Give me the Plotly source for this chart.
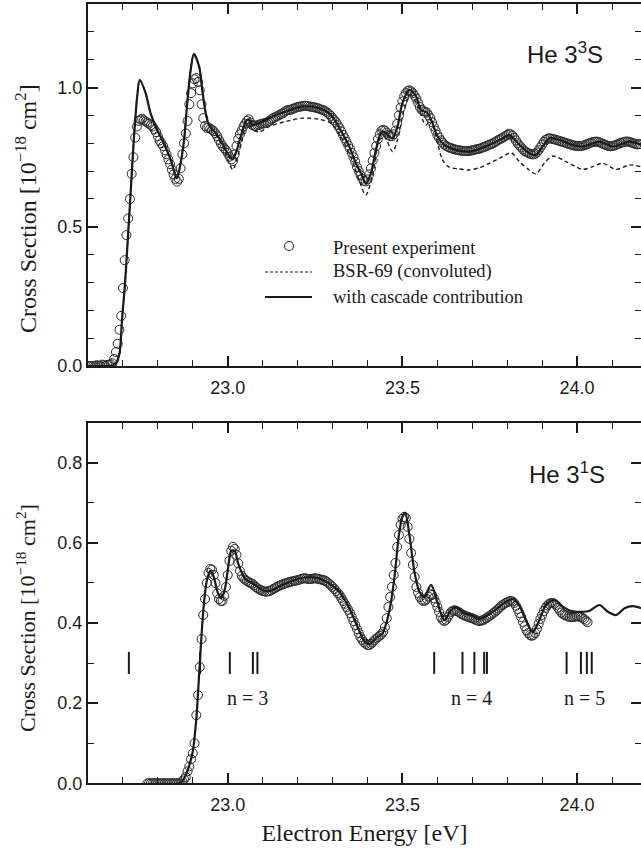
import plotly.graph_objects as go

# ---------------- data: He 3^3S (top panel) ----------------
exp_top_E = [
    22.600, 22.605, 22.610, 22.615, 22.620, 22.625, 22.630, 22.635, 22.640, 22.645,
    22.650, 22.655, 22.660, 22.665, 22.670, 22.675, 22.680, 22.685, 22.690, 22.695,
    22.700, 22.705, 22.710, 22.715, 22.720, 22.725, 22.730, 22.735, 22.740, 22.745,
    22.750, 22.755, 22.760, 22.765, 22.770, 22.775, 22.780, 22.785, 22.790, 22.795,
    22.800, 22.805, 22.810, 22.815, 22.820, 22.825, 22.830, 22.835, 22.840, 22.845,
    22.850, 22.855, 22.860, 22.865, 22.870, 22.875, 22.880, 22.885, 22.890, 22.895,
    22.900, 22.905, 22.910, 22.915, 22.920, 22.925, 22.930, 22.935, 22.940, 22.945,
    22.950, 22.955, 22.960, 22.965, 22.970, 22.975, 22.980, 22.985, 22.990, 22.995,
    23.000, 23.005, 23.010, 23.015, 23.020, 23.025, 23.030, 23.035, 23.040, 23.045,
    23.050, 23.055, 23.060, 23.065, 23.070, 23.075, 23.080, 23.085, 23.090, 23.095,
    23.100, 23.105, 23.110, 23.115, 23.120, 23.125, 23.130, 23.135, 23.140, 23.145,
    23.150, 23.155, 23.160, 23.165, 23.170, 23.175, 23.180, 23.185, 23.190, 23.195,
    23.200, 23.205, 23.210, 23.215, 23.220, 23.225, 23.230, 23.235, 23.240, 23.245,
    23.250, 23.255, 23.260, 23.265, 23.270, 23.275, 23.280, 23.285, 23.290, 23.295,
    23.300, 23.305, 23.310, 23.315, 23.320, 23.325, 23.330, 23.335, 23.340, 23.345,
    23.350, 23.355, 23.360, 23.365, 23.370, 23.375, 23.380, 23.385, 23.390, 23.395,
    23.400, 23.405, 23.410, 23.415, 23.420, 23.425, 23.430, 23.435, 23.440, 23.445,
    23.450, 23.455, 23.460, 23.465, 23.470, 23.475, 23.480, 23.485, 23.490, 23.495,
    23.500, 23.505, 23.510, 23.515, 23.520, 23.525, 23.530, 23.535, 23.540, 23.545,
    23.550, 23.555, 23.560, 23.565, 23.570, 23.575, 23.580, 23.585, 23.590, 23.595,
    23.600, 23.605, 23.610, 23.615, 23.620, 23.625, 23.630, 23.635, 23.640, 23.645,
    23.650, 23.655, 23.660, 23.665, 23.670, 23.675, 23.680, 23.685, 23.690, 23.695,
    23.700, 23.705, 23.710, 23.715, 23.720, 23.725, 23.730, 23.735, 23.740, 23.745,
    23.750, 23.755, 23.760, 23.765, 23.770, 23.775, 23.780, 23.785, 23.790, 23.795,
    23.800, 23.805, 23.810, 23.815, 23.820, 23.825, 23.830, 23.835, 23.840, 23.845,
    23.850, 23.855, 23.860, 23.865, 23.870, 23.875, 23.880, 23.885, 23.890, 23.895,
    23.900, 23.905, 23.910, 23.915, 23.920, 23.925, 23.930, 23.935, 23.940, 23.945,
    23.950, 23.955, 23.960, 23.965, 23.970, 23.975, 23.980, 23.985, 23.990, 23.995,
    24.000, 24.005, 24.010, 24.015, 24.020, 24.025, 24.030, 24.035, 24.040, 24.045,
    24.050, 24.055, 24.060, 24.065, 24.070, 24.075, 24.080, 24.085, 24.090, 24.095,
    24.100, 24.105, 24.110, 24.115, 24.120, 24.125, 24.130, 24.135, 24.140, 24.145,
    24.150, 24.155, 24.160, 24.165, 24.170, 24.175, 24.180,
]
exp_top_sigma = [
    0, 0, 0, 0, 0, 0.003, 0, 0, 0.005, 0.003, 0, 0.004, 0.005, 0.006, 0.01, 0.025, 0.05, 0.08, 0.13, 0.18,
    0.28, 0.38, 0.47, 0.53, 0.60, 0.69, 0.75, 0.82, 0.86, 0.88, 0.885, 0.888, 0.882, 0.878, 0.874, 0.87, 0.865, 0.86, 0.85, 0.84,
    0.825, 0.81, 0.80, 0.79, 0.775, 0.76, 0.742, 0.725, 0.705, 0.688, 0.672, 0.662, 0.672, 0.71, 0.76, 0.80, 0.835, 0.88, 0.94, 0.98,
    1.015, 1.03, 1.034, 1.02, 0.99, 0.94, 0.89, 0.862, 0.855, 0.857, 0.852, 0.848, 0.843, 0.835, 0.825, 0.812, 0.80, 0.79, 0.782, 0.775,
    0.765, 0.752, 0.742, 0.736, 0.76, 0.79, 0.815, 0.832, 0.845, 0.86, 0.87, 0.88, 0.886, 0.875, 0.866, 0.862, 0.862, 0.865, 0.866, 0.87,
    0.87, 0.872, 0.873, 0.877, 0.88, 0.886, 0.89, 0.893, 0.896, 0.90, 0.903, 0.906, 0.91, 0.915, 0.918, 0.92, 0.92, 0.923, 0.925, 0.928,
    0.93, 0.931, 0.932, 0.934, 0.935, 0.934, 0.933, 0.932, 0.93, 0.93, 0.928, 0.927, 0.925, 0.922, 0.92, 0.918, 0.915, 0.91, 0.905, 0.898,
    0.89, 0.883, 0.875, 0.865, 0.855, 0.843, 0.83, 0.818, 0.805, 0.792, 0.78, 0.765, 0.75, 0.733, 0.715, 0.70, 0.685, 0.673, 0.665, 0.663,
    0.67, 0.688, 0.71, 0.738, 0.765, 0.79, 0.815, 0.832, 0.845, 0.848, 0.845, 0.838, 0.83, 0.826, 0.825, 0.832, 0.845, 0.87, 0.90, 0.928,
    0.95, 0.968, 0.98, 0.988, 0.99, 0.986, 0.98, 0.97, 0.96, 0.945, 0.93, 0.92, 0.915, 0.913, 0.91, 0.90, 0.89, 0.875, 0.86, 0.845,
    0.83, 0.82, 0.81, 0.802, 0.795, 0.79, 0.787, 0.784, 0.782, 0.78, 0.778, 0.776, 0.775, 0.774, 0.773, 0.772, 0.772, 0.772, 0.772, 0.773,
    0.775, 0.776, 0.778, 0.779, 0.78, 0.782, 0.785, 0.787, 0.79, 0.792, 0.795, 0.797, 0.80, 0.804, 0.808, 0.812, 0.815, 0.818, 0.822, 0.826,
    0.83, 0.834, 0.832, 0.828, 0.82, 0.81, 0.80, 0.792, 0.785, 0.778, 0.772, 0.768, 0.765, 0.762, 0.76, 0.76, 0.762, 0.767, 0.775, 0.785,
    0.795, 0.805, 0.812, 0.816, 0.818, 0.817, 0.815, 0.814, 0.812, 0.81, 0.808, 0.806, 0.804, 0.802, 0.80, 0.798, 0.796, 0.794, 0.792, 0.791,
    0.79, 0.79, 0.79, 0.791, 0.792, 0.795, 0.797, 0.80, 0.802, 0.804, 0.805, 0.806, 0.805, 0.803, 0.80, 0.797, 0.795, 0.792, 0.79, 0.789,
    0.79, 0.791, 0.793, 0.796, 0.798, 0.801, 0.803, 0.805, 0.806, 0.806, 0.805, 0.803, 0.80, 0.798, 0.796, 0.796, 0.797,
]

casc_top_E = [
    22.60, 22.65, 22.67, 22.68, 22.69, 22.698, 22.706, 22.715, 22.722, 22.731,
    22.741, 22.748, 22.765, 22.779, 22.798, 22.817, 22.837, 22.854, 22.865, 22.875,
    22.884, 22.894, 22.903, 22.918, 22.927, 22.937, 22.946, 22.966, 22.985, 22.999,
    23.013, 23.023, 23.037, 23.052, 23.061, 23.07, 23.09, 23.118, 23.166, 23.214,
    23.262, 23.29, 23.309, 23.328, 23.348, 23.367, 23.386, 23.395, 23.41, 23.424,
    23.438, 23.448, 23.462, 23.472, 23.486, 23.50, 23.52, 23.539, 23.553, 23.572,
    23.586, 23.601, 23.62, 23.653, 23.691, 23.749, 23.787, 23.806, 23.835, 23.863,
    23.882, 23.901, 23.921, 23.949, 23.987, 24.016, 24.064, 24.102, 24.15, 24.183,
]
casc_top_sigma = [
    0, 0, 0.002, 0.01, 0.045, 0.176, 0.297, 0.477, 0.62, 0.81,
    0.97, 1.028, 0.98, 0.908, 0.848, 0.80, 0.74, 0.674, 0.728, 0.812,
    0.944, 1.064, 1.121, 1.076, 0.992, 0.908, 0.866, 0.836, 0.80, 0.764,
    0.742, 0.764, 0.824, 0.878, 0.886, 0.866, 0.872, 0.89, 0.914, 0.932,
    0.926, 0.908, 0.878, 0.836, 0.788, 0.728, 0.68, 0.656, 0.692, 0.776,
    0.836, 0.842, 0.824, 0.818, 0.86, 0.944, 0.992, 0.968, 0.92, 0.908,
    0.872, 0.824, 0.794, 0.776, 0.77, 0.794, 0.818, 0.83, 0.794, 0.764,
    0.758, 0.788, 0.818, 0.812, 0.794, 0.788, 0.806, 0.788, 0.806, 0.794,
]

bsr_top_E = [
    22.60, 22.65, 22.67, 22.68, 22.69, 22.698, 22.706, 22.715, 22.722, 22.731,
    22.741, 22.748, 22.765, 22.779, 22.798, 22.817, 22.837, 22.854, 22.865, 22.875,
    22.884, 22.894, 22.903, 22.918, 22.927, 22.937, 22.946, 22.966, 22.985, 23.00,
    23.015, 23.03, 23.05, 23.06, 23.07, 23.09, 23.118, 23.166, 23.214, 23.262,
    23.295, 23.324, 23.352, 23.376, 23.395, 23.414, 23.434, 23.448, 23.472, 23.486,
    23.505, 23.524, 23.543, 23.558, 23.567, 23.582, 23.596, 23.615, 23.634, 23.66,
    23.691, 23.72, 23.749, 23.787, 23.811, 23.835, 23.863, 23.882, 23.906, 23.93,
    23.968, 24.016, 24.045, 24.073, 24.112, 24.15, 24.183,
]
bsr_top_sigma = [
    0, 0, 0.002, 0.01, 0.045, 0.176, 0.297, 0.477, 0.62, 0.81,
    0.97, 1.028, 0.98, 0.908, 0.848, 0.80, 0.74, 0.674, 0.728, 0.812,
    0.944, 1.064, 1.121, 1.076, 0.992, 0.908, 0.866, 0.83, 0.79, 0.74,
    0.705, 0.76, 0.855, 0.87, 0.85, 0.84, 0.86, 0.878, 0.89, 0.886,
    0.872, 0.824, 0.752, 0.668, 0.614, 0.68, 0.812, 0.824, 0.77, 0.812,
    0.92, 0.974, 0.938, 0.884, 0.866, 0.884, 0.824, 0.74, 0.714, 0.708,
    0.704, 0.712, 0.728, 0.752, 0.766, 0.734, 0.704, 0.69, 0.728, 0.754,
    0.734, 0.706, 0.716, 0.728, 0.706, 0.722, 0.716,
]

# ---------------- data: He 3^1S (bottom panel) ----------------
exp_bot_E = [
    22.770, 22.775, 22.780, 22.785, 22.790, 22.795,
    22.800, 22.805, 22.810, 22.815, 22.820, 22.825, 22.830, 22.835, 22.840, 22.845,
    22.850, 22.855, 22.860, 22.865, 22.870, 22.875, 22.880, 22.885, 22.890, 22.895,
    22.900, 22.905, 22.910, 22.915, 22.920, 22.925, 22.930, 22.935, 22.940, 22.945,
    22.950, 22.955, 22.960, 22.965, 22.970, 22.975, 22.980, 22.985, 22.990, 22.995,
    23.000, 23.005, 23.010, 23.015, 23.020, 23.025, 23.030, 23.035, 23.040, 23.045,
    23.050, 23.055, 23.060, 23.065, 23.070, 23.075, 23.080, 23.085, 23.090, 23.095,
    23.100, 23.105, 23.110, 23.115, 23.120, 23.125, 23.130, 23.135, 23.140, 23.145,
    23.150, 23.155, 23.160, 23.165, 23.170, 23.175, 23.180, 23.185, 23.190, 23.195,
    23.200, 23.205, 23.210, 23.215, 23.220, 23.225, 23.230, 23.235, 23.240, 23.245,
    23.250, 23.255, 23.260, 23.265, 23.270, 23.275, 23.280, 23.285, 23.290, 23.295,
    23.300, 23.305, 23.310, 23.315, 23.320, 23.325, 23.330, 23.335, 23.340, 23.345,
    23.350, 23.355, 23.360, 23.365, 23.370, 23.375, 23.380, 23.385, 23.390, 23.395,
    23.400, 23.405, 23.410, 23.415, 23.420, 23.425, 23.430, 23.435, 23.440, 23.445,
    23.450, 23.455, 23.460, 23.465, 23.470, 23.475, 23.480, 23.485, 23.490, 23.495,
    23.500, 23.505, 23.510, 23.515, 23.520, 23.525, 23.530, 23.535, 23.540, 23.545,
    23.550, 23.555, 23.560, 23.565, 23.570, 23.575, 23.580, 23.585, 23.590, 23.595,
    23.600, 23.605, 23.610, 23.615, 23.620, 23.625, 23.630, 23.635, 23.640, 23.645,
    23.650, 23.655, 23.660, 23.665, 23.670, 23.675, 23.680, 23.685, 23.690, 23.695,
    23.700, 23.705, 23.710, 23.715, 23.720, 23.725, 23.730, 23.735, 23.740, 23.745,
    23.750, 23.755, 23.760, 23.765, 23.770, 23.775, 23.780, 23.785, 23.790, 23.795,
    23.800, 23.805, 23.810, 23.815, 23.820, 23.825, 23.830, 23.835, 23.840, 23.845,
    23.850, 23.855, 23.860, 23.865, 23.870, 23.875, 23.880, 23.885, 23.890, 23.895,
    23.900, 23.905, 23.910, 23.915, 23.920, 23.925, 23.930, 23.935, 23.940, 23.945,
    23.950, 23.955, 23.960, 23.965, 23.970, 23.975, 23.980, 23.985, 23.990, 23.995,
    24.000, 24.005, 24.010, 24.015, 24.020, 24.025, 24.030,
]
exp_bot_sigma = [
    0, 0, 0, 0, 0, 0,
    0, 0, 0, 0, 0, 0, 0, 0, 0, 0, 0, 0, 0, 0, 0.005, 0.01, 0.016, 0.03, 0.042, 0.06,
    0.075, 0.10, 0.17, 0.22, 0.29, 0.36, 0.42, 0.46, 0.50, 0.525, 0.535, 0.533, 0.52, 0.50, 0.474, 0.46, 0.455, 0.455, 0.468, 0.49,
    0.52, 0.555, 0.58, 0.59, 0.585, 0.57, 0.549, 0.53, 0.518, 0.512, 0.508, 0.505, 0.502, 0.50, 0.498, 0.494, 0.49, 0.487, 0.484, 0.482,
    0.48, 0.479, 0.478, 0.479, 0.48, 0.482, 0.485, 0.487, 0.49, 0.492, 0.494, 0.496, 0.497, 0.499, 0.50, 0.502, 0.503, 0.504, 0.505, 0.506,
    0.507, 0.508, 0.51, 0.511, 0.512, 0.511, 0.51, 0.51, 0.51, 0.511, 0.512, 0.511, 0.51, 0.509, 0.508, 0.507, 0.505, 0.502, 0.498, 0.494,
    0.49, 0.485, 0.48, 0.475, 0.47, 0.463, 0.455, 0.448, 0.44, 0.433, 0.425, 0.415, 0.405, 0.395, 0.385, 0.375, 0.365, 0.358, 0.352, 0.348,
    0.345, 0.345, 0.348, 0.352, 0.357, 0.361, 0.365, 0.368, 0.372, 0.378, 0.39, 0.412, 0.44, 0.465, 0.49, 0.52, 0.55, 0.59, 0.62, 0.645,
    0.66, 0.665, 0.662, 0.64, 0.61, 0.575, 0.545, 0.515, 0.49, 0.475, 0.465, 0.458, 0.455, 0.456, 0.46, 0.466, 0.472, 0.47, 0.462, 0.452,
    0.44, 0.428, 0.415, 0.408, 0.405, 0.408, 0.415, 0.422, 0.428, 0.431, 0.432, 0.43, 0.428, 0.425, 0.422, 0.42, 0.418, 0.416, 0.415, 0.413,
    0.412, 0.41, 0.408, 0.406, 0.405, 0.406, 0.407, 0.409, 0.412, 0.415, 0.418, 0.421, 0.425, 0.428, 0.432, 0.436, 0.44, 0.444, 0.447, 0.45,
    0.452, 0.454, 0.455, 0.454, 0.45, 0.443, 0.435, 0.425, 0.415, 0.403, 0.392, 0.382, 0.375, 0.37, 0.368, 0.37, 0.375, 0.385, 0.398, 0.41,
    0.42, 0.43, 0.438, 0.444, 0.448, 0.45, 0.45, 0.448, 0.445, 0.438, 0.432, 0.426, 0.422, 0.42, 0.418, 0.416, 0.415, 0.415, 0.415, 0.416,
    0.417, 0.416, 0.415, 0.413, 0.41, 0.406, 0.402,
]

casc_bot_E = [
    22.86, 22.87, 22.88, 22.89, 22.90, 22.91, 22.92, 22.93, 22.94, 22.95,
    22.96, 22.97, 22.98, 22.99, 23.00, 23.01, 23.02, 23.03, 23.05, 23.07,
    23.10, 23.12, 23.156, 23.214, 23.262, 23.29, 23.319, 23.348, 23.371, 23.391,
    23.405, 23.424, 23.443, 23.454, 23.467, 23.478, 23.49, 23.50, 23.508, 23.52,
    23.534, 23.548, 23.562, 23.582, 23.601, 23.62, 23.639, 23.653, 23.677, 23.696,
    23.72, 23.749, 23.777, 23.801, 23.817, 23.835, 23.854, 23.873, 23.892, 23.911,
    23.935, 23.959, 23.983, 24.011, 24.035, 24.064, 24.088, 24.112, 24.136, 24.159,
    24.183,
]
casc_bot_sigma = [
    0, 0.005, 0.02, 0.045, 0.08, 0.16, 0.30, 0.43, 0.505, 0.53,
    0.515, 0.48, 0.462, 0.478, 0.53, 0.58, 0.58, 0.548, 0.51, 0.50,
    0.482, 0.48, 0.495, 0.513, 0.511, 0.499, 0.478, 0.437, 0.391, 0.355,
    0.347, 0.362, 0.374, 0.40, 0.45, 0.52, 0.62, 0.665, 0.675, 0.62,
    0.53, 0.48, 0.465, 0.495, 0.449, 0.407, 0.432, 0.439, 0.424, 0.42,
    0.41, 0.422, 0.44, 0.455, 0.46, 0.443, 0.407, 0.378, 0.407, 0.445,
    0.458, 0.441, 0.43, 0.428, 0.43, 0.445, 0.428, 0.42, 0.437, 0.442,
    0.437,
]

# doubly-excited resonance thresholds (eV) and the series labels
resonance_E = [22.717, 22.921, 23.006, 23.072, 23.085,
               23.591, 23.672, 23.706, 23.734, 23.742,
               23.970, 24.011, 24.028, 24.042]
series_labels = ["n = 3", "n = 4", "n = 5"]
series_label_E = [23.056, 23.697, 24.021]

x_ticks = [23.0, 23.5, 24.0]

for a, b in [(exp_top_E, exp_top_sigma), (casc_top_E, casc_top_sigma), (bsr_top_E, bsr_top_sigma),
             (exp_bot_E, exp_bot_sigma), (casc_bot_E, casc_bot_sigma)]:
    assert len(a) == len(b), (len(a), len(b))

# ---------------- figure ----------------
W, H = 641, 848
INK = "#1a1a1a"
SERIF = "Liberation Serif, Times New Roman, serif"
SANS = "Liberation Sans, Arial, sans-serif"


def fx(px):
    return px / W


def fy(py):
    return 1 - py / H


MARK_LO, MARK_HI = 0.273, 0.328
res_x, res_y = [], []
for e in resonance_E:
    res_x += [e, e, None]
    res_y += [MARK_LO, MARK_HI, None]

fig = go.Figure()

exp_marker = dict(symbol="circle-open", size=9, color="#2b2b2b",
                  line=dict(width=1.0, color="#2b2b2b"))

# top panel
fig.add_trace(go.Scatter(x=bsr_top_E, y=bsr_top_sigma, mode="lines",
                         line=dict(color=INK, width=1.4, dash="4px,3px", shape="spline", smoothing=0.8),
                         name="BSR-69 (convoluted)", showlegend=False, xaxis="x", yaxis="y"))
fig.add_trace(go.Scatter(x=exp_top_E, y=exp_top_sigma, mode="markers", marker=exp_marker,
                         name="Present experiment", showlegend=False, xaxis="x", yaxis="y"))
fig.add_trace(go.Scatter(x=casc_top_E, y=casc_top_sigma, mode="lines",
                         line=dict(color=INK, width=2.2, shape="spline", smoothing=0.8),
                         name="with cascade contribution", showlegend=False, xaxis="x", yaxis="y"))

# bottom panel
fig.add_trace(go.Scatter(x=exp_bot_E, y=exp_bot_sigma, mode="markers", marker=exp_marker,
                         showlegend=False, xaxis="x2", yaxis="y2"))
fig.add_trace(go.Scatter(x=casc_bot_E, y=casc_bot_sigma, mode="lines",
                         line=dict(color=INK, width=2.2, shape="spline", smoothing=0.8),
                         showlegend=False, xaxis="x2", yaxis="y2"))
fig.add_trace(go.Scatter(x=res_x, y=res_y, mode="lines",
                         line=dict(color=INK, width=2), showlegend=False,
                         xaxis="x2", yaxis="y2", hoverinfo="skip"))

axis_base = dict(showline=True, linewidth=2, linecolor=INK, mirror="allticks",
                 ticks="inside", ticklen=10, tickwidth=1.6, tickcolor=INK,
                 showgrid=False, zeroline=False, automargin=False,
                 tickfont=dict(family=SANS, size=18, color=INK))
minor = dict(dtick=0.1, ticks="inside", ticklen=6, tickwidth=1.4, tickcolor=INK, showgrid=False)

x_dom = [fx(88), 1.0]
x_range = [22.6, 24.183]
ytitle = "Cross Section [10<sup>−18</sup> cm<sup>2</sup>]"

fig.update_layout(
    width=W, height=H,
    margin=dict(l=0, r=0, t=0, b=0, autoexpand=False),
    paper_bgcolor="white", plot_bgcolor="white",
    showlegend=False,
    xaxis=dict(axis_base, domain=x_dom, range=x_range, anchor="y", ticklabelstandoff=4,
               tickvals=x_ticks, ticktext=[f"{v:.1f}" for v in x_ticks],
               minor=dict(minor, tick0=23.0)),
    yaxis=dict(axis_base, domain=[fy(366), fy(4)], range=[0, 1.3], anchor="x",
               dtick=0.5, tick0=0, tickformat=".1f", minor=dict(minor, tick0=0)),
    xaxis2=dict(axis_base, domain=x_dom, range=x_range, anchor="y2", ticklabelstandoff=4,
                tickvals=x_ticks, ticktext=[f"{v:.1f}" for v in x_ticks],
                minor=dict(minor, tick0=23.0),
                title=dict(text="Electron Energy [eV]", font=dict(family=SERIF, size=24, color=INK), standoff=10)),
    yaxis2=dict(axis_base, domain=[fy(783.3), fy(422.7)], range=[0, 0.9], anchor="x2",
                dtick=0.2, tick0=0, tickformat=".1f", minor=dict(minor, tick0=0)),
)

ann = []
# y-axis titles
ann.append(dict(text=ytitle, x=fx(26), y=fy(209), xref="paper", yref="paper", textangle=-90,
                xanchor="center", yanchor="middle", showarrow=False,
                font=dict(family=SERIF, size=24, color=INK)))
ann.append(dict(text=ytitle, x=fx(26), y=fy(618), xref="paper", yref="paper", textangle=-90,
                xanchor="center", yanchor="middle", showarrow=False,
                font=dict(family=SERIF, size=22, color=INK)))
# state labels
ann.append(dict(text="He 3<sup>3</sup>S", x=fx(525), y=fy(53), xref="paper", yref="paper",
                xanchor="left", yanchor="middle", showarrow=False,
                font=dict(family=SANS, size=24, color=INK)))
ann.append(dict(text="He 3<sup>1</sup>S", x=fx(527), y=fy(473), xref="paper", yref="paper",
                xanchor="left", yanchor="middle", showarrow=False,
                font=dict(family=SANS, size=24, color=INK)))
# series labels
for lab, e in zip(series_labels, series_label_E):
    ann.append(dict(text=lab, x=e, y=0.213, xref="x2", yref="y2", showarrow=False,
                    xanchor="center", yanchor="middle",
                    font=dict(family=SERIF, size=20, color=INK)))
# legend text
legend_rows = [("Present experiment", 248), ("BSR-69 (convoluted)", 272),
               ("with cascade contribution", 297)]
for txt, py in legend_rows:
    ann.append(dict(text=txt, x=fx(331), y=fy(py), xref="paper", yref="paper",
                    xanchor="left", yanchor="middle", showarrow=False,
                    font=dict(family=SERIF, size=18.5, color=INK)))
fig.update_layout(annotations=ann)

shapes = [
    dict(type="circle", xref="paper", yref="paper",
         x0=fx(284.5), x1=fx(293.5), y0=fy(250.5), y1=fy(241.5),
         line=dict(color="#2b2b2b", width=1.1)),
    dict(type="line", xref="paper", yref="paper", x0=fx(265), x1=fx(312), y0=fy(272), y1=fy(272),
         line=dict(color=INK, width=1.2, dash="3px,2px")),
    dict(type="line", xref="paper", yref="paper", x0=fx(265), x1=fx(312), y0=fy(297), y1=fy(297),
         line=dict(color=INK, width=2.2)),
]
fig.update_layout(shapes=shapes)

fig.write_html("out.html", config={"displayModeBar": False},
               post_script="document.body.style.margin='0';document.body.style.overflow='hidden';")
